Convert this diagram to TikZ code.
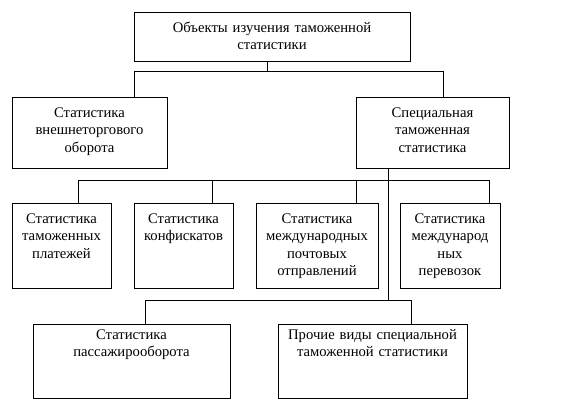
\documentclass[tikz,border=0pt]{standalone}
\usepackage{fontspec}
\setmainfont{Liberation Serif}
\usepackage{tikz}

\begin{document}
\begin{tikzpicture}[x=0.75pt,y=-0.75pt,line width=0.75pt,main node/.style={draw,inner sep=0pt,anchor=north,align=center,font=\fontsize{11}{13.1}\selectfont}]
    \useasboundingbox (0,0) rectangle (565,409);
    \node[main node,text width=207pt,text height=15pt,text depth=21.75pt] (0) at (272,12) {Объекты изучения таможенной\\статистики};
    \node[main node,text width=116.25pt,text height=15pt,text depth=38.25pt] (1) at (89.5,97) {Статистика\\внешнеторгового\\оборота};
    \node[main node,text width=114.75pt,text height=15pt,text depth=38.25pt] (2) at (432.5,97) {Специальная\\таможенная\\статистика};
    \node[main node,text width=74.25pt,text height=15pt,text depth=48.75pt] (3) at (61.5,203) {Статистика\\таможенных\\платежей};
    \node[main node,text width=74.25pt,text height=15pt,text depth=48.75pt] (4) at (183.5,203) {Статистика\\конфискатов};
    \node[main node,text width=91.5pt,text height=15pt,text depth=48.75pt] (5) at (317,203) {Статистика\\международных\\почтовых\\отправлений};
    \node[main node,text width=75pt,text height=15pt,text depth=48.75pt] (6) at (450,203) {Статистика\\международ\\ных\\перевозок};
    \node[main node,text width=147.75pt,text height=11.25pt,text depth=44.25pt] (7) at (131.5,324) {Статистика\\пассажирооборота};
    \node[main node,text width=141.75pt,text height=11.25pt,text depth=44.25pt] (8) at (372.5,324) {Прочие виды специальной\\таможенной статистики};

    % bus points
    \coordinate (a) at (267,72);
    \coordinate (b1) at (134,72);
    \coordinate (b2) at (443,72);
    \coordinate (t) at (388,301);
    \coordinate (c1) at (78,181);
    \coordinate (c2) at (212,181);
    \coordinate (c3) at (356,181);
    \coordinate (c4) at (489,181);
    \coordinate (d1) at (145,301);
    \coordinate (d2) at (411,301);

    \draw (0.south -| a) -- (a);
    \draw (1.north -| b1) -- (b1) -- (b2) -- (2.north -| b2);
    \draw (2.south -| t) -- (t);
    \draw (3.north -| c1) -- (c1) -- (c4) -- (6.north -| c4);
    \draw (4.north -| c2) -- (c2);
    \draw (5.north -| c3) -- (c3);
    \draw (7.north -| d1) -- (d1) -- (d2) -- (8.north -| d2);
  \end{tikzpicture}
\end{document}
